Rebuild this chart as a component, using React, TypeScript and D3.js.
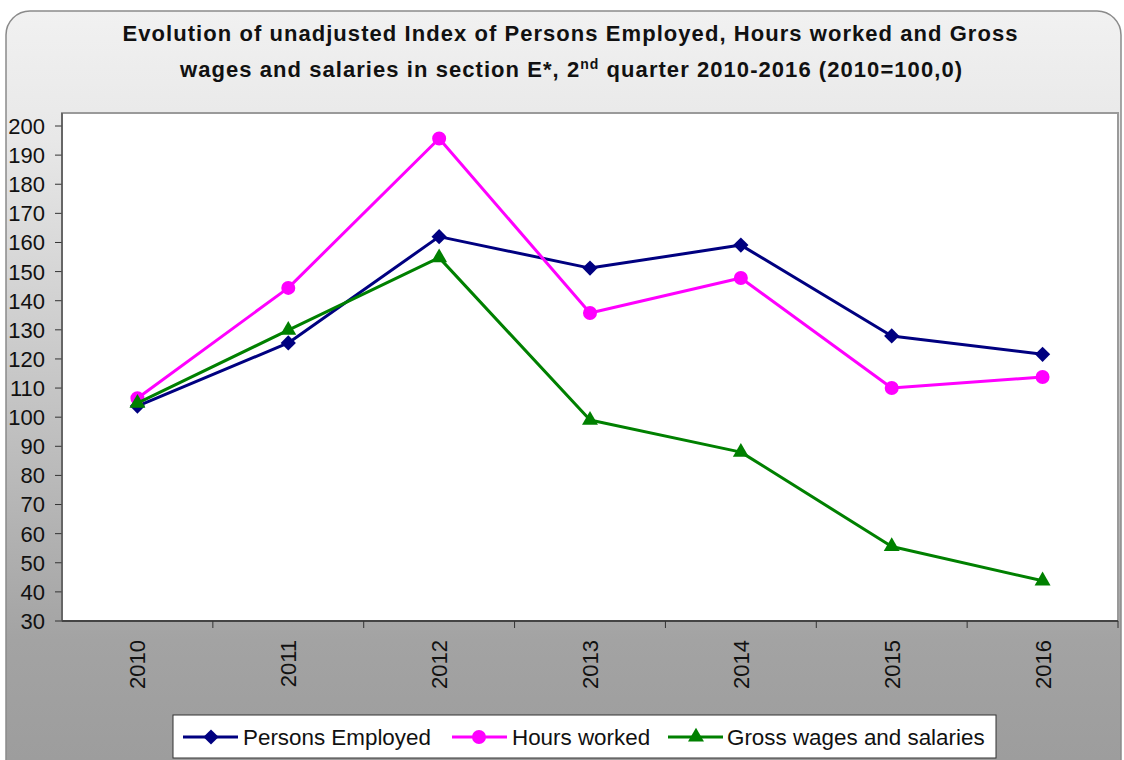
import { line, scaleLinear, scalePoint, symbol, symbolCircle, symbolSquare, symbolTriangle } from "d3";

const years = ["2010", "2011", "2012", "2013", "2014", "2015", "2016"];
const personsEmployed = [103.8, 125.5, 162, 151.2, 159.1, 127.9, 121.6];
const hoursWorked = [106.5, 144.4, 195.7, 135.8, 147.8, 110, 113.8];
const grossWages = [104.8, 129.9, 154.8, 99, 88, 55.6, 43.8];
const yTicks = [30, 40, 50, 60, 70, 80, 90, 100, 110, 120, 130, 140, 150, 160, 170, 180, 190, 200];
const seriesNames = ["Persons Employed", "Hours worked", "Gross wages and salaries"];

const FONT = "'Liberation Sans', Arial, Helvetica, sans-serif";

const diamondPath = symbol().type(symbolSquare).size(116)() ?? "";
const circlePath = symbol().type(symbolCircle).size(154)() ?? "";
const trianglePath = symbol().type(symbolTriangle).size(110)() ?? "";

export default function App() {
  const width = 1124;
  const height = 760;
  const plotLeft = 62;
  const plotRight = 1118;
  const plotTop = 113;
  const plotBottom = 621;

  const x = scalePoint<string>().domain(years).range([plotLeft, plotRight]).padding(0.5);
  const step = x.step();
  const y = scaleLinear().domain([30, 200]).range([plotBottom, 126]);

  const makeLine = line<number>()
    .x((_, i) => x(years[i]) ?? 0)
    .y((v) => y(v));

  const series = [
    { name: seriesNames[0], values: personsEmployed, color: "#000080", marker: "diamond" },
    { name: seriesNames[1], values: hoursWorked, color: "#ff00ff", marker: "circle" },
    { name: seriesNames[2], values: grossWages, color: "#008000", marker: "triangle" },
  ];

  const marker = (kind: string, cx: number, cy: number, color: string, key: string) => {
    if (kind === "diamond") {
      return <path key={key} d={diamondPath} transform={`translate(${cx},${cy}) rotate(45)`} fill={color} />;
    }
    if (kind === "circle") {
      return <path key={key} d={circlePath} transform={`translate(${cx},${cy})`} fill={color} />;
    }
    return <path key={key} d={trianglePath} transform={`translate(${cx},${cy})`} fill={color} />;
  };

  const legendItems = [
    { lineX: 183, markerX: 211, textX: 243 },
    { lineX: 452, markerX: 479, textX: 512 },
    { lineX: 668, markerX: 696, textX: 727 },
  ];

  return (
    <svg
      width={width}
      height={height}
      style={{ position: "absolute", left: 0, top: 0, display: "block" }}
      fontFamily={FONT}
    >
      <defs>
        <linearGradient id="bg" x1="0" y1="11" x2="0" y2="760" gradientUnits="userSpaceOnUse">
          <stop offset="0" stopColor="#f1f1f1" />
          <stop offset="0.17" stopColor="#e8e8e8" />
          <stop offset="0.84" stopColor="#a3a3a3" />
          <stop offset="1" stopColor="#9d9d9d" />
        </linearGradient>
      </defs>

      <rect x={0} y={0} width={width} height={height} fill="#ffffff" />
      <rect x={6} y={11} width={1115} height={800} rx={24} fill="url(#bg)" stroke="#8a8a8a" strokeWidth={1.5} />

      <text x={570} y={41} textAnchor="middle" fontSize={22} fontWeight="bold" fill="#111" textLength={895} lengthAdjust="spacing">
        Evolution of unadjusted Index of Persons Employed, Hours worked and Gross
      </text>
      <text x={571} y={77} textAnchor="middle" fontSize={22} fontWeight="bold" fill="#111" textLength={782} lengthAdjust="spacing">
        wages and salaries in section E*, 2<tspan fontSize={14} dy={-8}>nd</tspan>
        <tspan dy={8}> quarter 2010-2016 (2010=100,0)</tspan>
      </text>

      <rect x={plotLeft} y={plotTop} width={plotRight - plotLeft} height={plotBottom - plotTop} fill="#ffffff" stroke="#9a9a9a" strokeWidth={2} />

      {yTicks.map((t) => (
        <g key={t}>
          <line x1={55} x2={plotLeft} y1={y(t)} y2={y(t)} stroke="#333" strokeWidth={1} />
          <text x={45} y={y(t)} dy="0.36em" textAnchor="end" fontSize={22} fill="#111">
            {t}
          </text>
        </g>
      ))}
      <line x1={plotLeft} x2={plotLeft} y1={plotTop} y2={plotBottom} stroke="#555" strokeWidth={1.5} />

      <line x1={plotLeft} x2={plotRight} y1={plotBottom} y2={plotBottom} stroke="#444" strokeWidth={2} />
      {years.map((yr, i) => (
        <line
          key={`t${yr}`}
          x1={plotLeft + step * (i + 1)}
          x2={plotLeft + step * (i + 1)}
          y1={plotBottom}
          y2={plotBottom + 7}
          stroke="#333"
          strokeWidth={1}
        />
      ))}
      {years.map((yr) => (
        <text
          key={yr}
          transform={`translate(${(x(yr) ?? 0) + 8},640) rotate(-90)`}
          textAnchor="end"
          fontSize={22}
          fill="#111"
        >
          {yr}
        </text>
      ))}

      {series.map((s) => (
        <g key={s.name}>
          <path d={makeLine(s.values) ?? ""} fill="none" stroke={s.color} strokeWidth={3} strokeLinejoin="round" />
          {s.values.map((v, i) => marker(s.marker, x(years[i]) ?? 0, y(v), s.color, `${s.name}${i}`))}
        </g>
      ))}

      <rect x={173} y={715} width={823} height={43} fill="#ffffff" stroke="#333" strokeWidth={1} />
      {series.map((s, i) => (
        <g key={`lg${s.name}`}>
          <line x1={legendItems[i].lineX} x2={legendItems[i].lineX + 55} y1={737} y2={737} stroke={s.color} strokeWidth={3} />
          {marker(s.marker, legendItems[i].markerX, 737, s.color, `lgm${i}`)}
          <text x={legendItems[i].textX} y={745} fontSize={22.4} fill="#111">
            {s.name}
          </text>
        </g>
      ))}
    </svg>
  );
}
